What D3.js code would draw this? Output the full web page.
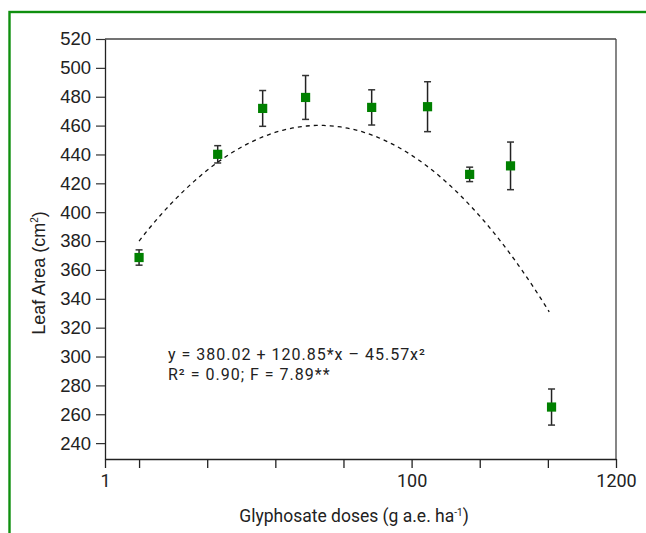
<!DOCTYPE html>
<html>
<head>
<meta charset="utf-8">
<script src="https://cdn.jsdelivr.net/npm/d3@7"></script>
<style>
  html, body { margin: 0; padding: 0; background: #fff; }
  svg { display: block; }
</style>
</head>
<body>
<svg id="chart" width="646" height="533"></svg>
<script>
// ---- data ----
const logDose  = [0, 0.577, 0.907, 1.222, 1.707, 2.117, 2.426, 2.726, 3.027];
const leafArea = [368.6, 440.1, 471.9, 479.5, 472.6, 473.1, 426.2, 432.1, 265.0];
const errorBar = [5.3, 6.0, 12.4, 15.2, 12.2, 17.3, 5.0, 16.5, 12.5];

const fitCoef  = [380.02, 120.85, -45.57];   // y = a + b*x + c*x^2
const fitRange = [0, 3.01];

const yTickValues = [240, 260, 280, 300, 320, 340, 360, 380, 400, 420, 440, 460, 480, 500, 520];
const xTickValues = [-0.25, 0, 0.5, 1, 1.5, 2, 2.5, 3, 3.5];
const xTickLabels = ["1", "", "", "", "", "100", "", "", "1200"];

const yDomain = [229, 520];
const xDomain = [-0.25, 3.5];

// ---- layout ----
const svg = d3.select("#chart");
const mLeft = 105, mRight = 616, mTop = 39, mBottom = 459;

const x = d3.scaleLinear().domain(xDomain).range([mLeft, mRight]);
const y = d3.scaleLinear().domain(yDomain).range([mBottom, mTop]);

// green outer border
svg.append("rect")
  .attr("x", 9.5).attr("y", 12).attr("width", 700).attr("height", 600)
  .attr("fill", "none").attr("stroke", "#0f8f0f").attr("stroke-width", 2.4);

// frame top and right
svg.append("line").attr("x1", mLeft).attr("x2", mRight).attr("y1", mTop).attr("y2", mTop)
  .attr("stroke", "#444").attr("stroke-width", 1.3);
svg.append("line").attr("x1", mRight).attr("x2", mRight).attr("y1", mTop).attr("y2", mBottom)
  .attr("stroke", "#444").attr("stroke-width", 1.3);

// y axis
const yAxis = d3.axisLeft(y).tickValues(yTickValues).tickSize(9).tickPadding(5).tickSizeOuter(0);
const gy = svg.append("g").attr("transform", `translate(${mLeft},0)`).call(yAxis);
gy.select(".domain").attr("stroke", "#222").attr("stroke-width", 1.3);
gy.selectAll(".tick line").attr("stroke", "#333").attr("stroke-width", 1.2);
gy.selectAll(".tick text").attr("font-family", "'Liberation Sans', Arial, sans-serif")
  .attr("font-size", 18.5).attr("fill", "#222");

// x axis
const xAxis = d3.axisBottom(x).tickValues(xTickValues)
  .tickFormat((d, i) => xTickLabels[i]).tickSize(9).tickPadding(6).tickSizeOuter(0);
const gx = svg.append("g").attr("transform", `translate(0,${mBottom})`).call(xAxis);
gx.select(".domain").attr("stroke", "#222").attr("stroke-width", 1.3);
gx.selectAll(".tick line").attr("stroke", "#222").attr("stroke-width", 1.3);
gx.selectAll(".tick text").attr("font-family", "Roboto, sans-serif")
  .attr("font-size", 18).attr("fill", "#222");

// fitted curve
const curveX = d3.range(0, 121).map(i => fitRange[0] + (fitRange[1] - fitRange[0]) * i / 120);
const line = d3.line()
  .x(d => x(d))
  .y(d => y(fitCoef[0] + fitCoef[1] * d + fitCoef[2] * d * d));
svg.append("path").datum(curveX).attr("d", line)
  .attr("fill", "none").attr("stroke", "#111").attr("stroke-width", 1.3)
  .attr("stroke-dasharray", "4,4");

// error bars
const pts = logDose.map((d, i) => ({ x: d, y: leafArea[i], e: errorBar[i] }));
const eb = svg.append("g");
eb.selectAll("line.v").data(pts).join("line").attr("class", "v")
  .attr("x1", d => x(d.x)).attr("x2", d => x(d.x))
  .attr("y1", d => y(d.y + d.e)).attr("y2", d => y(d.y - d.e))
  .attr("stroke", "#222").attr("stroke-width", 1.5);
eb.selectAll("line.t").data(pts).join("line").attr("class", "t")
  .attr("x1", d => x(d.x) - 3.5).attr("x2", d => x(d.x) + 3.5)
  .attr("y1", d => y(d.y + d.e)).attr("y2", d => y(d.y + d.e))
  .attr("stroke", "#333").attr("stroke-width", 1.5);
eb.selectAll("line.b").data(pts).join("line").attr("class", "b")
  .attr("x1", d => x(d.x) - 3.5).attr("x2", d => x(d.x) + 3.5)
  .attr("y1", d => y(d.y - d.e)).attr("y2", d => y(d.y - d.e))
  .attr("stroke", "#333").attr("stroke-width", 1.5);

// markers
svg.append("g").selectAll("rect").data(pts).join("rect")
  .attr("x", d => x(d.x) - 4.6).attr("y", d => y(d.y) - 4.6)
  .attr("width", 9.2).attr("height", 9.2).attr("fill", "#008000");

// equation
const eq = svg.append("text").attr("font-family", "Roboto, sans-serif")
  .attr("font-size", 16).attr("letter-spacing", 1).attr("fill", "#222");
eq.append("tspan").attr("x", 168).attr("y", 359.5).text("y = 380.02 + 120.85*x – 45.57x²");
eq.append("tspan").attr("x", 168).attr("y", 379.5).text("R² = 0.90; F = 7.89**");

// axis titles
const xt = svg.append("text").attr("x", 354).attr("y", 522).attr("text-anchor", "middle")
  .attr("font-family", "Roboto, sans-serif").attr("font-size", 17.5).attr("fill", "#222");
xt.append("tspan").text("Glyphosate doses (g a.e. ha");
xt.append("tspan").attr("font-size", 10).attr("dy", -6).text("-1");
xt.append("tspan").attr("dy", 6).text(")");

const yt = svg.append("text").attr("transform", "translate(45,273) rotate(-90)")
  .attr("text-anchor", "middle").attr("font-family", "'Liberation Sans', Arial, sans-serif")
  .attr("font-size", 18).attr("fill", "#222");
yt.append("tspan").text("Leaf Area (cm");
yt.append("tspan").attr("font-size", 10).attr("dy", -7).text("2");
yt.append("tspan").attr("dy", 7).text(")");
</script>
</body>
</html>
